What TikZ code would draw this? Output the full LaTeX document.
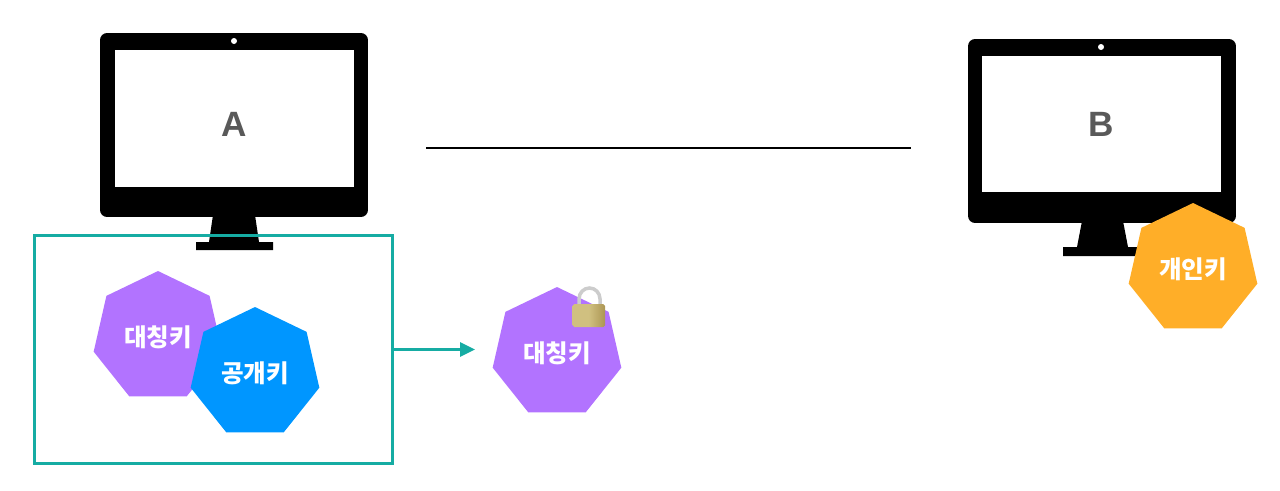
\documentclass[tikz,border=0pt]{standalone}
\usepackage{fontspec}
\newfontfamily\krfont{Noto Sans CJK KR Black}
\newfontfamily\lblfont{Liberation Sans}
\usetikzlibrary{shapes.geometric,arrows.meta}
\definecolor{tealline}{RGB}{22,172,163}
\definecolor{keypurple}{RGB}{178,115,255}
\definecolor{keyblue}{RGB}{0,150,255}
\definecolor{keyorange}{RGB}{255,174,40}
\definecolor{labelgray}{RGB}{89,89,89}
\definecolor{lockdark}{RGB}{172,150,84}
\definecolor{locklight}{RGB}{208,192,128}
\tikzset{
  body/.style={fill=black,rounded corners=4pt,minimum width=5.36cm,minimum height=3.68cm,inner sep=0pt},
  screen/.style={fill=white,minimum width=4.78cm,minimum height=2.74cm,inner sep=0pt},
  lbl/.style={font=\lblfont\bfseries\fontsize{20}{20}\selectfont,text=labelgray},
  cam/.style={circle,fill=white,minimum size=.12cm,inner sep=0pt},
  key/.style={regular polygon,regular polygon sides=7,minimum size=2.64cm,inner sep=0pt,
    text=white,font=\krfont\fontsize{14}{14}\selectfont},
}
\begin{document}
\begin{tikzpicture}[x=.02cm,y=-.02cm]
\useasboundingbox (0,0) rectangle (1280,490);
% left computer
\fill (213,215) -- (255,215) -- (259,242) -- (273,242) -- (273,250) -- (196,250) -- (196,242) -- (209,242) -- cycle;
\node[body] (bodyA) at (234,125) {};
\node[screen] (screenA) at (234.5,118.5) {};
\node[lbl] (labelA) at (234,124) {A};
\node[cam] (camA) at (234,41) {};
% right computer
\fill (1082,221) -- (1123,221) -- (1128,247) -- (1140,247) -- (1140,256) -- (1063,256) -- (1063,247) -- (1077,247) -- cycle;
\node[body] (bodyB) at (1102,131) {};
\node[screen] (screenB) at (1101.5,124) {};
\node[lbl] (labelB) at (1101,124) {B};
\node[cam] (camB) at (1101,47) {};
% line between them
\coordinate (lineL) at (426,148);
\coordinate (lineR) at (911,148);
\draw[line width=1.1pt] (lineL) -- (lineR);
% box with the two keys
\node[draw=tealline,line width=1.7pt,minimum width=7.18cm,minimum height=4.58cm,inner sep=0pt] (keybox) at (213.5,349.5) {};
\node[key,fill=keypurple] (symA) at (158,337) {대칭키};
\node[key,fill=keyblue] (pub) at (255,373) {공개키};
\coordinate (arrowend) at (475,349.5);
\draw[tealline,line width=1.4pt,-{Triangle[length=8.5pt,width=8pt]}] (keybox.east) -- (arrowend);
% locked key
\node[key,fill=keypurple] (symB) at (557,353) {대칭키};
\draw[color=gray!40,line width=2pt] (579,306) -- (579,299) arc[start angle=180,end angle=360,x radius=10.5,y radius=11] -- (600,306);
\shade[left color=locklight,right color=lockdark,middle color=locklight,rounded corners=1pt] (572.5,304) rectangle (605,327);
% key on the right
\node[key,fill=keyorange] (priv) at (1193,269) {개인키};
\end{tikzpicture}
\end{document}
